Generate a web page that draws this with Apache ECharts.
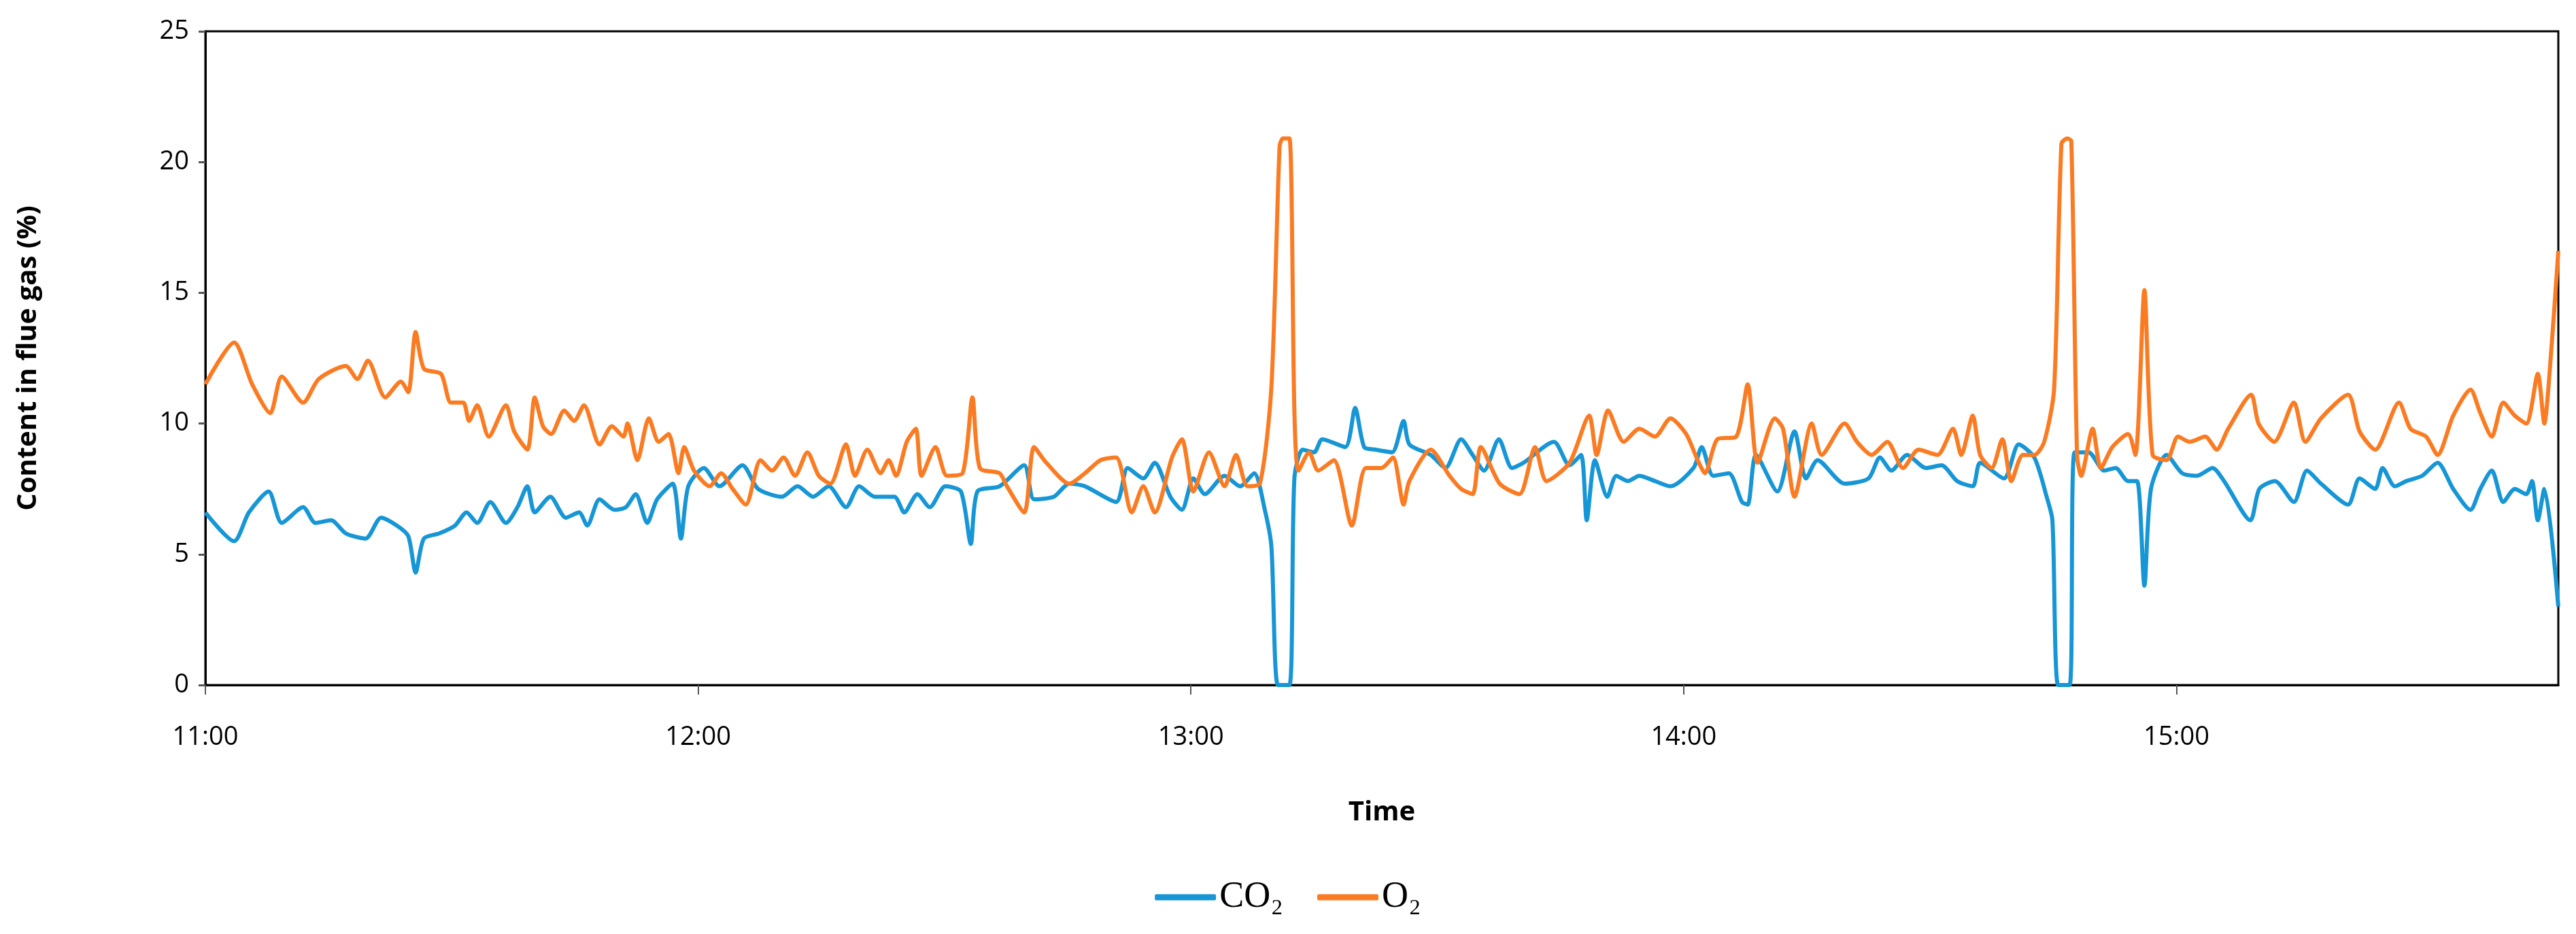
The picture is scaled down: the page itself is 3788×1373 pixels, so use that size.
<!DOCTYPE html>
<html><head><meta charset="utf-8">
<script src="https://cdn.jsdelivr.net/npm/echarts@6/dist/echarts.min.js"></script>
<style>html,body{margin:0;padding:0;background:#fff}#c{width:3788px;height:1373px}</style>
</head><body><div id="c"></div>
<script>
// minutes after 11:00
const o2Times = [0,3.5,5.7,7.9,9.3,11.9,13.8,17.1,18.5,19.8,21.9,23.8,24.7,25.6,26.6,28.7,29.9,31.4,32.1,33.1,34.5,36.6,37.6,39.2,40.1,41.1,42.1,43.7,44.9,46.1,48,49.5,50.9,51.4,52.6,54,55.2,56.4,57.6,58.3,59.5,61.4,62.8,64.2,65.8,67.6,69,70.4,71.8,73.3,74.7,76.1,78,79.1,80.6,82.2,83.2,84.1,85.4,86.5,87.2,88.9,90.3,92.2,93.4,94.3,96.7,97.6,99.7,100.9,102.4,105.2,107.1,109,110.9,112.8,114.2,115.6,117.7,118.9,120.3,122.2,124.1,125.5,126.9,128.4,129.8,130.8,131.2,132,132.6,133.1,134.4,135.5,137.4,139.6,141.3,143.2,144.6,145.9,146.6,149.2,151.5,152.9,154.3,155.3,157.6,160,161.9,163.3,166.1,168.5,169.4,170.8,172.7,174.6,176.5,178.4,180.3,181.7,182.6,184.1,186.4,187.8,189,191.1,192.1,193.5,195.6,196.8,199.6,201.1,202.9,204.8,206.7,208.6,210.9,212.8,213.8,215.2,216.1,217.5,218.8,219.9,221.3,222.7,223.9,225.1,226,226.7,227.2,227.9,228.4,229.8,230.8,232.2,234.1,235,236.1,237.1,238.8,240.2,241.6,243.5,244.9,246.3,249.1,250,251.9,254.3,255.7,257.6,260.9,262.3,264.2,267.1,268.5,270.4,271.8,273.7,275.8,277,278.4,279.8,281.2,282.6,284,284.8,285.5,286.5];
const o2Values = [11.5,13.1,11.5,10.4,11.8,10.8,11.7,12.2,11.7,12.4,11.0,11.6,11.2,13.5,12.1,11.9,10.8,10.8,10.1,10.7,9.5,10.7,9.7,9.0,11.0,9.9,9.6,10.5,10.1,10.7,9.2,9.9,9.5,10.0,8.6,10.2,9.3,9.6,8.1,9.1,8.2,7.6,8.1,7.5,6.9,8.6,8.2,8.7,8.0,8.9,8.0,7.7,9.2,8.0,9.0,8.1,8.6,8.0,9.3,9.8,8.0,9.1,8.0,8.1,11.0,8.3,8.1,7.6,6.6,9.1,8.5,7.7,8.1,8.6,8.7,6.6,7.6,6.6,8.7,9.4,7.4,8.9,7.6,8.8,7.6,7.7,11.4,20.6,20.9,20.9,10.5,8.2,8.9,8.2,8.6,6.1,8.3,8.3,8.7,6.9,7.8,9.0,8.0,7.5,7.3,9.1,7.7,7.3,9.1,7.8,8.5,10.3,8.8,10.5,9.3,9.8,9.5,10.2,9.6,8.6,8.1,9.4,9.5,11.5,8.5,10.2,9.8,7.2,10.0,8.8,10.0,9.3,8.8,9.3,8.3,9.0,8.8,9.8,8.8,10.3,8.8,8.3,9.4,7.8,8.8,8.8,9.3,11.3,20.7,20.9,20.8,8.8,8.0,9.8,8.3,9.1,9.6,8.8,15.1,8.8,8.6,9.5,9.3,9.5,9.0,9.8,11.1,10.0,9.3,10.8,9.3,10.2,11.1,9.7,9.0,10.8,9.8,9.5,8.8,10.3,11.3,10.4,9.5,10.8,10.3,10.0,11.9,10.0,12.2,16.6];
const co2Times = [0,3.5,5.3,7.7,9.3,11.9,13.4,15.3,17.1,19.5,21.4,23.3,24.7,25.6,26.6,28.5,30.4,31.8,33.1,34.7,36.6,38,39.2,40.1,42,43.9,45.5,46.5,48,49.8,51.2,52.4,53.8,55,56.9,57.9,58.8,60.7,62.6,65.4,67.3,70.2,72.1,74,75.9,78,79.6,81.5,83.9,85.1,86.7,88.2,90.1,92,93.2,94,96.7,99.7,100.9,103.3,105.2,107.1,110.9,112.3,114.2,115.6,117.5,118.9,120.3,121.7,124.1,126,127.7,129,129.8,130.6,132,132.6,133.6,135,136,138.8,140,141.1,142.5,144.5,145.9,146.6,149.2,151,152.9,154.3,155.7,157.5,159.1,160.5,164.2,166.1,167.5,168.2,169.2,170.7,171.8,173.2,174.6,176.5,178.4,181.2,182.2,183.6,185.5,187.1,187.8,188.8,191.4,193.5,194.9,196.3,199.6,202.5,203.9,205.3,207.2,209.5,211.4,213.3,215.2,216.1,219,220.8,222.7,224.2,224.9,225.6,227,227.6,229.3,231.2,232.6,234.1,235.2,236.1,236.9,238.8,240.7,242.5,244.4,245.8,249,250.1,252,254.3,255.9,257.6,260.9,262.3,264.2,265.1,266.6,268,269.9,271.8,273.7,275.8,277,278.4,279.8,281.2,282.6,283.3,284,284.8,286.5];
const co2Values = [6.6,5.5,6.6,7.4,6.2,6.8,6.2,6.3,5.8,5.6,6.4,6.1,5.7,4.3,5.6,5.8,6.1,6.6,6.2,7.0,6.2,6.8,7.6,6.6,7.2,6.4,6.6,6.1,7.1,6.7,6.8,7.3,6.2,7.1,7.7,5.6,7.6,8.3,7.6,8.4,7.5,7.2,7.6,7.2,7.6,6.8,7.6,7.2,7.2,6.6,7.3,6.8,7.6,7.4,5.4,7.4,7.6,8.4,7.1,7.2,7.7,7.6,7.0,8.3,7.9,8.5,7.2,6.7,7.9,7.3,8.0,7.6,8.1,6.7,5.3,0,0,7.9,9.0,8.9,9.4,9.1,10.6,9.1,9.0,8.9,10.1,9.2,8.8,8.3,9.4,8.8,8.2,9.4,8.3,8.5,9.3,8.4,8.8,6.3,8.6,7.2,8.0,7.8,8.0,7.8,7.6,8.3,9.1,8.0,8.1,7.0,6.9,8.8,7.4,9.7,7.9,8.6,7.7,7.9,8.7,8.2,8.8,8.3,8.4,7.8,7.6,8.5,7.9,9.2,8.7,7.2,6.3,0,0,8.9,8.9,8.2,8.3,7.8,7.8,3.8,7.5,8.8,8.1,8.0,8.3,7.8,6.3,7.5,7.8,7.0,8.2,7.7,6.9,7.9,7.5,8.3,7.6,7.8,8.0,8.5,7.5,6.7,7.5,8.2,7.0,7.5,7.3,7.8,6.3,7.5,3.0];
const yTicks = [0,5,10,15,20,25];
const xTickLabels = ['11:00','12:00','13:00','14:00','15:00'];

const pair = (t, v) => t.map((x, i) => [x, v[i]]);
const chart = echarts.init(document.getElementById('c'));
chart.setOption({
  animation: false,
  backgroundColor: '#fff',
  grid: {left: 302, right: 26, top: 46, bottom: 366, show: true, borderColor: '#000', borderWidth: 3},
  legend: {
    bottom: 22, left: 'center', itemWidth: 90, itemHeight: 9, itemGap: 50,
    icon: 'roundRect',
    textStyle: {fontFamily: 'Liberation Serif', fontSize: 54, color: '#000'},
    data: ['CO₂', 'O₂']
  },
  xAxis: {
    type: 'value', min: 0, max: 286.5, interval: 60,
    name: 'Time', nameLocation: 'middle', nameGap: 168,
    nameTextStyle: {fontFamily: 'Open Sans', fontWeight: 'bold', fontSize: 40, color: '#000'},
    axisLine: {lineStyle: {color: '#000', width: 3}},
    axisTick: {show: true, length: 14, lineStyle: {color: '#555', width: 2}},
    splitLine: {show: false},
    axisLabel: {fontFamily: 'Open Sans', fontSize: 38, color: '#000', margin: 58, showMaxLabel: false,
      formatter: v => xTickLabels[Math.round(v / 60)] || ''}
  },
  yAxis: {
    type: 'value', min: yTicks[0], max: yTicks[yTicks.length - 1], interval: 5,
    name: 'Content in flue gas (%)', nameLocation: 'middle', nameGap: 240,
    nameTextStyle: {fontFamily: 'Open Sans', fontWeight: 'bold', fontSize: 40, color: '#000'},
    axisLine: {show: true, lineStyle: {color: '#000', width: 3}},
    axisTick: {show: true, length: 10, lineStyle: {color: '#555', width: 3}},
    splitLine: {show: false},
    axisLabel: {fontFamily: 'Open Sans', fontSize: 38, color: '#000', margin: 24}
  },
  series: [
    {name: 'CO₂', type: 'line', data: pair(co2Times, co2Values), showSymbol: false, smooth: 0.25,
      lineStyle: {color: '#1796d6', width: 6}, itemStyle: {color: '#1796d6'}},
    {name: 'O₂', type: 'line', data: pair(o2Times, o2Values), showSymbol: false, smooth: 0.25,
      lineStyle: {color: '#fb7b22', width: 6}, itemStyle: {color: '#fb7b22'}}
  ]
});
</script></body></html>
